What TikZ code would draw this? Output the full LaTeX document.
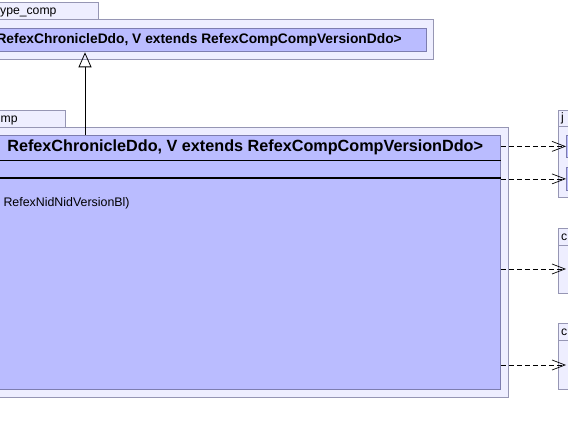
\documentclass[tikz,border=0pt]{standalone}
\usepackage{fontspec}
\setmainfont{Liberation Sans}
\usetikzlibrary{arrows.meta}
\definecolor{pkgfill}{RGB}{238,238,255}
\definecolor{pkgline}{RGB}{150,150,180}
\definecolor{clsfill}{RGB}{186,188,255}
\definecolor{clsline}{RGB}{125,125,175}
\newcommand{\hdr}{RefexChronicleDdo, V extends RefexCompCompVersionDdo>}

\begin{document}
\begin{tikzpicture}[x=1pt,y=-1pt]
    \tikzstyle{pkg}=[draw=pkgline, fill=pkgfill, line width=0.8pt, inner sep=0pt, anchor=north west]
    \tikzstyle{cls}=[draw=clsline, fill=clsfill, line width=0.8pt, inner sep=0pt, anchor=north west]
    \tikzstyle{tabtext}=[inner sep=0pt, anchor=base west, font=\fontsize{12.2}{14}\selectfont]
    \tikzstyle{extends}=[-{Triangle[open,length=15pt,width=13pt]}, line width=0.8pt]
    \tikzstyle{dep}=[-{Straight Barb[length=13pt,width=10pt]}, line width=0.7pt, dash pattern=on 5pt off 3pt]
    \useasboundingbox (0,0) rectangle (568,435);
    \clip (0,0) rectangle (568,435);
    % top package
    \node[pkg, minimum width=118, minimum height=17.5] (toptab) at (-20,2) {};
    \node[tabtext] (toplbl) at (0,15) {ype\_comp};
    \node[pkg, minimum width=453, minimum height=40] (topbody) at (-20,19.5) {};
    \node[cls, minimum width=446, minimum height=23.5] (topcls) at (-20,28) {};
    \node[anchor=east, inner sep=0pt, font=\fontsize{13.8}{16}\selectfont\bfseries] (tophdr) at (402,39.8) {\hdr};
    % lower package
    \node[pkg, minimum width=85, minimum height=17] (lowtab) at (-20,110) {};
    \node[tabtext] (lowlbl) at (0.5,122.5) {mp};
    \node[pkg, minimum width=528, minimum height=270] (lowbody) at (-20,127) {};
    \node[cls, minimum width=520, minimum height=254] (lowcls) at (-20,135) {};
    \node[anchor=east, inner sep=0pt, font=\fontsize{16.2}{18}\selectfont\bfseries] (lowhdr) at (483.3,147.5) {\hdr};
    \draw[line width=0.9pt] ([yshift=-25pt]lowcls.north west) -- ([yshift=-25pt]lowcls.north east);
    \draw[line width=1.7pt] ([yshift=-43pt]lowcls.north west) -- ([yshift=-43pt]lowcls.north east);
    \node[anchor=west, inner sep=0pt, font=\fontsize{12.4}{14}\selectfont] (op) at (3.3,203) {RefexNidNidVersionBl)};
    % right packages
    \node[pkg, minimum width=40, minimum height=16] (jtab) at (558,110) {};
    \node[tabtext] (jlbl) at (561,121.5) {j};
    \node[pkg, minimum width=40, minimum height=71] (jbody) at (558,126) {};
    \node[cls, minimum width=30, minimum height=22] (jcls1) at (566,135) {};
    \node[cls, minimum width=30, minimum height=23] (jcls2) at (566,167) {};
    \node[pkg, minimum width=40, minimum height=17] (ctab1) at (558,228) {};
    \node[tabtext] (clbl1) at (561,240.5) {c};
    \node[pkg, minimum width=40, minimum height=48] (cbody1) at (558,245) {};
    \coordinate (ctgt1) at (566,269);
    \node[pkg, minimum width=40, minimum height=17] (ctab2) at (558,323) {};
    \node[tabtext] (clbl2) at (561,335.5) {c};
    \node[pkg, minimum width=40, minimum height=49] (cbody2) at (558,340) {};
    \coordinate (ctgt2) at (566,365);
    % connectors
    \coordinate (gen) at (85,0);
    \draw[extends] (lowcls.north -| gen) -- (topcls.south -| gen);
    \draw[dep] (lowcls.east |- jcls1) -- (jcls1.west);
    \draw[dep] (lowcls.east |- jcls2) -- (jcls2.west);
    \draw[dep] (lowcls.east |- ctgt1) -- (ctgt1);
    \draw[dep] (lowcls.east |- ctgt2) -- (ctgt2);
\end{tikzpicture}
\end{document}
